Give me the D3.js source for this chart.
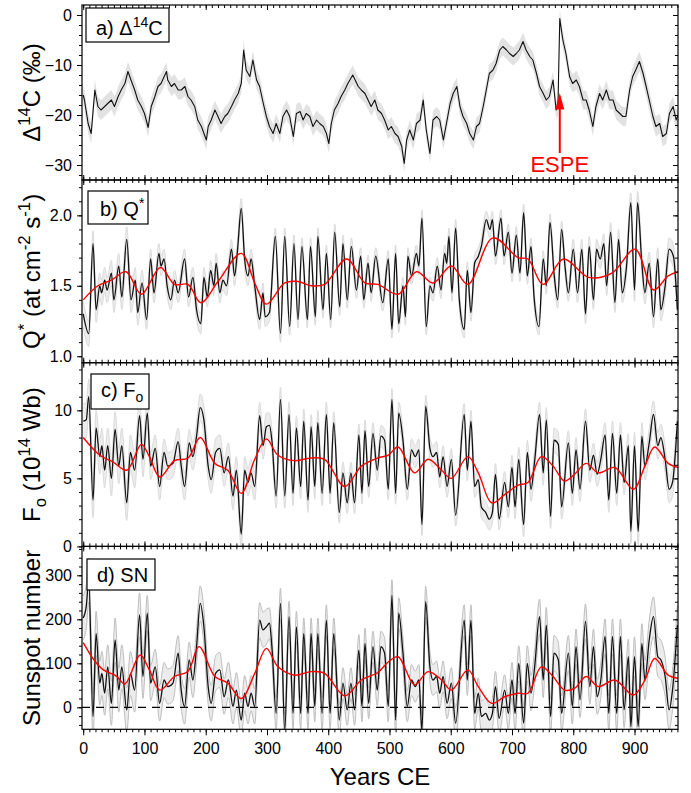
<!DOCTYPE html>
<html>
<head>
<meta charset="utf-8">
<script src="https://cdn.jsdelivr.net/npm/d3@7"></script>
<style>
  body { margin: 0; background: #fff; }
  text { font-family: Arial, "Liberation Sans", sans-serif; }
</style>
</head>
<body>
<div id="chart"></div>
<script>
// ---- data ----
// a) Delta14C (permil)
var c14Years = [0,2,8,13,19,24,29,35,40,46,51,57,62,68,73,78,84,89,95,100,106,111,117,122,127,136,138,144,149,155,160,166,171,176,182,187,193,201,204,209,215,220,225,231,236,242,247,253,258,262,266,272,277,283,288,294,299,304,310,315,321,326,332,337,343,348,354,359,364,370,375,381,386,392,397,401,405,410,416,421,427,432,440,449,454,460,465,470,476,481,487,492,498,503,509,514,520,524,528,533,539,544,550,555,560,566,571,577,582,588,593,599,604,610,615,620,626,631,637,642,647,653,658,663,669,674,680,685,691,696,702,707,712,718,723,729,734,740,745,751,756,761,767,772,775,778,783,788,794,799,805,810,816,821,826,832,837,843,848,854,859,865,870,876,881,886,892,897,902,908,914,919,924,930,935,941,946,952,957,963,968,971];
var c14Values = [-16,-17.0,-21.7,-23.7,-15.0,-18.3,-19.0,-18.3,-17.7,-17.0,-18.3,-16.3,-15.0,-13.7,-11.3,-13.0,-15.0,-17.0,-18.3,-19.7,-22.5,-18.3,-16.3,-14.3,-13.7,-11.3,-13.0,-14.3,-13.7,-15.0,-15.0,-14.3,-16.3,-17.0,-18.3,-21.0,-22.3,-25.0,-22.3,-21.0,-19.0,-20.3,-21.7,-20.3,-19.7,-18.3,-17.0,-15.7,-13.7,-7.0,-11.0,-12.3,-9.0,-13.0,-14.3,-17.7,-20.3,-22.3,-23.7,-21.7,-23.7,-20.3,-19.0,-20.3,-24.3,-19.7,-19.3,-21.0,-19.7,-20.3,-22.3,-21.0,-21.7,-22.3,-23.7,-25.7,-21.7,-19.0,-17.7,-16.3,-15.0,-13.7,-12.0,-14.3,-15.0,-15.7,-17.0,-18.3,-17.0,-19.0,-19.7,-21.0,-23.0,-22.3,-23.7,-24.3,-26.3,-29.7,-25.0,-23.0,-25.0,-21.7,-21.0,-17.0,-23.0,-27.7,-21.0,-20.3,-21.0,-25.0,-21.7,-17.7,-15.7,-14.3,-18.3,-20.3,-21.7,-23.7,-25.0,-22.3,-21.7,-18.3,-15.0,-11.7,-11.0,-9.7,-7.0,-6.3,-7.0,-7.7,-8.3,-7.7,-7.0,-5.3,-7.0,-8.3,-9.0,-11.7,-14.3,-15.7,-17.0,-16.3,-13.0,-19.0,-18.3,-0.7,-5.0,-7.7,-12.3,-13.7,-13.0,-14.3,-17.0,-17.0,-19.0,-22.3,-18.3,-15.7,-17.0,-15.0,-17.0,-17.0,-19.0,-19.7,-20.3,-20.3,-15.0,-12.3,-11.0,-9.3,-11.7,-14.3,-17.0,-20.3,-22.3,-21.7,-24.3,-23.7,-19.7,-18.3,-21.0,-20];
var c14Err = [2.0,1.9,1.9,1.9,1.9,1.9,1.8,1.8,1.9,2.0];   // half width of grey band per century

// b) Q* (at cm-2 s-1)
var qYears = [0,9,16,21,27,30,35,39,46,50,58,63,71,78,85,89,96,103.5,110,115.5,123.6,127,132,137,143,149,155,165.5,172,179,185,192,197,202.5,208,213.4,217,223,228,234,242,247,252,258,263.5,269,274,280,288,293.5,297,304,313.6,322,329,337,344,350.6,357,366,371,379,383,391.5,397,404,410.5,418.7,424,431,437.7,446,453,458,465,470,477.5,489,498,504,510,515,522,526,530,536,544,548,553,560,566,571,578,584,590,593.5,597,602,608,614,622,627,633,639,645,650,658,664,668,673,682,687,694,700,707,713,719,725,731,736,744,751,756,762,769,774.5,781,786.5,792,800,807,814,820,826,833,838,844,850,854.5,861,868,874,880,887,894,900,905,912,917,924,931,938,943,950,956.5,963.5,970];
var qValues = [1.30,1.16,1.80,1.33,1.50,1.45,1.54,1.47,1.59,1.40,1.64,1.42,1.83,1.40,1.54,1.31,1.52,1.26,1.69,1.45,1.73,1.64,1.69,1.50,1.40,1.54,1.45,1.69,1.42,1.56,1.33,1.23,1.56,1.42,1.61,1.50,1.66,1.45,1.54,1.50,1.76,1.57,1.76,2.05,1.69,1.57,1.69,1.50,1.26,1.45,1.28,1.31,1.85,1.16,1.85,1.21,1.80,1.26,1.78,1.26,1.78,1.28,1.85,1.33,1.73,1.26,1.88,1.35,1.80,1.40,1.78,1.47,1.71,1.40,1.66,1.45,1.71,1.38,1.69,1.19,1.73,1.23,1.50,1.28,1.71,1.57,1.73,1.64,1.98,1.21,1.50,1.45,1.64,1.47,1.73,1.66,1.85,1.45,1.91,1.40,1.19,1.61,1.31,1.66,1.71,1.78,1.97,1.90,1.97,1.71,1.98,1.71,1.88,1.59,1.86,1.59,2.02,1.57,1.78,1.42,1.21,1.69,1.50,1.95,1.57,1.40,1.90,1.64,1.45,1.76,1.45,1.76,1.30,1.78,1.40,1.76,1.69,1.80,1.50,1.88,1.38,1.83,1.45,1.64,2.09,1.47,2.09,1.66,1.45,1.66,1.28,1.69,1.33,1.50,1.76,1.71,1.33];
var qSmoothYears = [0,24,46,70,95,126,149,171,192,220,258,280,299,329,351,372,394,430,460,481,514,544,571,601,628,669,710,726,751,784,825,863,901,931,955,971];
var qSmoothValues = [1.40,1.50,1.54,1.60,1.44,1.63,1.51,1.51,1.38,1.53,1.73,1.52,1.37,1.52,1.53,1.50,1.51,1.69,1.52,1.51,1.44,1.60,1.52,1.64,1.51,1.84,1.70,1.69,1.51,1.69,1.56,1.59,1.76,1.47,1.57,1.60];
var qErr = [0.09,0.07,0.07,0.06,0.06,0.06,0.06,0.06,0.07,0.08];

// c) Fo (10^14 Wb)
var foYears = [0,5,9,16,21,27,30.5,35,40,46,52,58,63,71,77,84,92,97.5,104.6,110,117.6,124.7,132,138,146.5,155,160,165.5,173,179,185,191,197,204,209,216,223,230,237,244.5,250,258,263.5,269,274,280,288,293.5,299,304,308,315,322,329,336,342.5,348,355,360,367,372,378,383,390,397,403,409,418,424,431,437,443,450,455,460,466,473,480,486,492,498,504,510,515,522,529,536,542,548,553,559,566,571,577,582,587.5,594,601,608,622,627,633,639,645,650,657,663,668,673,679,688,694,700,705,711,719,725,731,737,745,751,756,763,768.5,775.6,781,792,798.5,804.5,811,820,827,833,839,845,852,858,864,871,877,883,890,894,900,906,912,917,924,931,938,943,950,956.5,962,970];
var foValues = [9.2,9.3,11.0,3.4,8.7,6.6,7.4,5.6,7.4,5.0,8.6,5.9,7.4,3.2,6.9,5.6,9.6,6.4,9.8,5.9,7.2,4.4,6.9,5.9,6.1,7.7,5.9,4.4,7.6,6.6,8.1,10.2,9.3,5.9,4.9,6.9,7.2,5.4,6.6,3.7,5.6,0.9,5.6,4.7,5.4,4.4,9.6,7.4,8.8,8.9,7.8,3.7,10.8,3.7,9.7,3.9,8.7,4.4,9.2,3.4,8.8,4.4,9.1,3.9,9.7,3.9,9.1,2.5,5.4,3.2,5.4,3.2,8.2,3.9,8.5,4.4,8.3,5.6,8.1,7.8,4.2,10.8,3.9,9.8,7.8,4.2,7.1,6.6,7.1,1.6,10.3,7.2,6.6,6.9,5.1,6.6,4.4,6.4,2.3,9.7,5.6,9.2,4.4,4.9,2.9,2.5,2.0,2.5,5.3,2.0,4.7,2.9,5.8,2.9,6.4,1.6,6.9,4.2,6.3,9.7,5.4,9.3,2.2,7.8,7.5,2.9,7.6,3.9,7.1,4.2,9.2,5.6,6.7,5.3,6.4,8.2,3.4,8.3,3.9,8.2,4.7,7.4,1.1,7.4,1.1,8.1,5.9,7.6,9.7,7.4,8.0,6.4,4.2,4.7,9.2];
var foSmoothYears = [0,27,49,71,95,108,125,149,171,191,215,236,258,280,299,318,345,372,394,427,454,481,498,514,541,563,585,601,628,645,667,688,710,726,748,767,786,802,821,841,868,898,917,933,955,971];
var foSmoothValues = [8.0,6.7,6.2,5.6,7.5,6.6,5.1,6.3,6.5,8.0,6.1,5.6,3.9,6.4,7.9,6.7,6.3,6.5,6.4,4.4,5.9,6.5,6.7,7.3,5.4,6.4,5.6,5.0,6.6,5.4,3.2,3.8,4.5,4.7,6.6,5.9,4.8,5.3,6.1,5.4,5.8,4.2,5.9,7.3,6.1,5.8];
var foErr = [1.3,1.0,1.0,0.9,0.8,0.8,0.8,0.9,0.9,1.0];

// d) Sunspot number
var snYears = foYears;
var snValues = [203,230,289,-21,168,55,77,32,92,9,153,39,92,-6,77,39,210,70,214,55,92,9,62,47,55,123,39,2,108,62,138,236,183,47,9,77,85,24,62,2,39,-29,32,2,32,2,198,176,183,191,138,-14,236,-52,206,-14,183,-14,168,-14,168,2,168,-14,198,-14,168,-29,55,-6,55,-6,130,2,145,9,138,39,138,123,2,255,-29,214,123,2,62,47,62,-52,240,92,62,70,32,70,9,55,-36,198,62,198,-14,32,-21,-14,-29,-14,47,-25,39,-14,62,-14,100,-36,100,32,92,206,62,187,-21,123,108,-14,123,2,138,17,195,47,138,24,62,161,-14,161,-14,161,-6,115,-44,115,-44,145,62,153,206,115,108,70,-6,39,187];
var snSmoothYears = [0,18,33,54,68,93,108,125,149,171,189,215,236,258,280,299,318,345,372,394,427,454,481,498,514,541,563,585,601,628,645,667,688,710,726,748,767,786,802,821,841,868,898,917,933,955,971];
var snSmoothValues = [147,107,85,71,53,119,85,39,70,82,138,70,55,20,77,134,92,73,81,77,26,62,79,103,115,51,81,62,39,85,47,9,24,32,32,92,70,39,43,70,47,62,28,62,111,73,66];
var snErr = [50,40,40,35,35,35,35,40,40,45];

var xTickLabels = [0,100,200,300,400,500,600,700,800,900];

// ---- layout ----
const width = 691, height = 793;
const left = 82, right = 678;

const svg = d3.select('#chart')
  .append('svg')
  .attr('width', width)
  .attr('height', height);

const x = d3.scaleLinear().domain([-2, 971]).range([left, right]);

function zip(xs, ys) { return xs.map((d, i) => ({ year: d, v: ys[i] })); }

const panels = [
  { id: 'a', top: 5, bottom: 180, domain: [-33, 2], major: [0, -10, -20, -30], minor: d3.range(-32, 2, 2),
    fmt: d3.format('d'), data: zip(c14Years, c14Values), err: c14Err, curve: d3.curveLinear, lw: 1.1 },
  { id: 'b', top: 180, bottom: 362.7, domain: [0.954, 2.251], major: [1.0, 1.5, 2.0], minor: d3.range(10, 23).map(d => d / 10),
    fmt: d3.format('.1f'), data: zip(qYears, qValues), err: qErr, smooth: zip(qSmoothYears, qSmoothValues), curve: d3.curveMonotoneX, lw: 1.3 },
  { id: 'c', top: 362.7, bottom: 546.4, domain: [0, 13.5], major: [0, 5, 10], minor: d3.range(0, 14, 1),
    fmt: d3.format('d'), data: zip(foYears, foValues), err: foErr, smooth: zip(foSmoothYears, foSmoothValues), curve: d3.curveMonotoneX, lw: 1.3 },
  { id: 'd', top: 546.4, bottom: 729.3, domain: [-50, 365.7], major: [0, 100, 200, 300], minor: d3.range(-40, 366, 20),
    fmt: d3.format('d'), data: zip(snYears, snValues), err: snErr, smooth: zip(snSmoothYears, snSmoothValues), curve: d3.curveMonotoneX, lw: 1.3, edges: true }
];

panels.forEach(function (p, pi) {
  const y = d3.scaleLinear().domain(p.domain).range([p.bottom, p.top]);
  p.y = y;
  const clipId = 'clip-' + p.id;
  svg.append('clipPath').attr('id', clipId)
    .append('rect').attr('x', left).attr('y', p.top).attr('width', right - left).attr('height', p.bottom - p.top);

  const g = svg.append('g').attr('clip-path', `url(#${clipId})`);
  const errOf = d => p.err[Math.min(9, Math.max(0, Math.floor(d.year / 100)))];

  // grey uncertainty band
  const band = d3.area().curve(p.curve)
    .x(d => x(d.year))
    .y0(d => y(d.v - errOf(d)))
    .y1(d => y(d.v + errOf(d)));
  g.append('path').datum(p.data).attr('d', band)
    .attr('fill', p.id === 'a' ? '#e2e2e2' : '#ececec').attr('stroke', 'none');

  if (p.id !== 'a') {
    const hi = d3.line().curve(p.curve).x(d => x(d.year)).y(d => y(d.v + errOf(d)));
    const lo = d3.line().curve(p.curve).x(d => x(d.year)).y(d => y(d.v - errOf(d)));
    [hi, lo].forEach(fn => g.append('path').datum(p.data).attr('d', fn)
      .attr('fill', 'none').attr('stroke', p.edges ? '#bdbdbd' : '#dadada').attr('stroke-width', 1));
  }

  if (p.id === 'd') {
    g.append('line')
      .attr('x1', left).attr('x2', right)
      .attr('y1', y(0)).attr('y2', y(0))
      .attr('stroke', '#000').attr('stroke-width', 1.2).attr('stroke-dasharray', '8,6');
  }

  // main series
  const line = d3.line().curve(p.curve).x(d => x(d.year)).y(d => y(d.v));
  g.append('path').datum(p.data).attr('d', line)
    .attr('fill', 'none').attr('stroke', '#111').attr('stroke-width', p.lw).attr('stroke-linejoin', 'round');

  // smoothed (red)
  if (p.smooth) {
    const sline = d3.line().curve(d3.curveCatmullRom).x(d => x(d.year)).y(d => y(d.v));
    g.append('path').datum(p.smooth).attr('d', sline)
      .attr('fill', 'none').attr('stroke', '#ff0000').attr('stroke-width', 1.4);
  }

  // frame
  svg.append('rect')
    .attr('x', left).attr('y', p.top).attr('width', right - left).attr('height', p.bottom - p.top)
    .attr('fill', 'none').attr('stroke', '#000').attr('stroke-width', 1.2);

  // left axis (ticks out)
  svg.append('g').attr('transform', `translate(${left},0)`)
    .call(d3.axisLeft(y).tickValues(p.minor).tickSize(3).tickFormat(''))
    .call(a => a.select('.domain').remove());
  svg.append('g').attr('transform', `translate(${left},0)`)
    .call(d3.axisLeft(y).tickValues(p.major).tickSize(5).tickPadding(5).tickFormat(p.fmt))
    .call(a => a.select('.domain').remove())
    .attr('font-size', 16).attr('font-family', 'Arial, "Liberation Sans", sans-serif');

  // right axis (ticks in)
  svg.append('g').attr('transform', `translate(${right},0)`)
    .call(d3.axisLeft(y).tickValues(p.minor).tickSize(3).tickFormat(''))
    .call(a => a.select('.domain').remove());
  svg.append('g').attr('transform', `translate(${right},0)`)
    .call(d3.axisLeft(y).tickValues(p.major).tickSize(5).tickFormat(''))
    .call(a => a.select('.domain').remove());

  // x ticks on top and bottom edge
  const minorX = d3.range(0, 971, 10);
  const topAxis = pi === 0 ? d3.axisBottom : d3.axisTop;
  svg.append('g').attr('transform', `translate(0,${p.top})`)
    .call(topAxis(x).tickValues(minorX).tickSize(3).tickFormat(''))
    .call(a => a.select('.domain').remove());
  svg.append('g').attr('transform', `translate(0,${p.top})`)
    .call(topAxis(x).tickValues(xTickLabels).tickSize(5).tickFormat(''))
    .call(a => a.select('.domain').remove());
  svg.append('g').attr('transform', `translate(0,${p.bottom})`)
    .call(d3.axisBottom(x).tickValues(minorX).tickSize(3).tickFormat(''))
    .call(a => a.select('.domain').remove());
  const last = pi === panels.length - 1;
  svg.append('g').attr('transform', `translate(0,${p.bottom})`)
    .call(d3.axisBottom(x).tickValues(xTickLabels).tickSize(last ? 6 : 5).tickPadding(7)
      .tickFormat(last ? d3.format('d') : ''))
    .call(a => a.select('.domain').remove())
    .attr('font-size', 16).attr('font-family', 'Arial, "Liberation Sans", sans-serif');
});

svg.selectAll('.tick line').attr('stroke-width', 1);
svg.selectAll('.tick text').attr('fill', '#000');

// ---- y axis titles ----
function rich(sel, parts) {
  parts.forEach(function (pt) {
    const t = sel.append('tspan').text(pt.t);
    if (pt.s === 'sup') t.attr('font-size', '70%').attr('dy', '-0.6em');
    if (pt.s === 'sub') t.attr('font-size', '70%').attr('dy', '0.35em');
    if (pt.back) t.attr('dy', pt.back);
  });
}

const titles = [
  [{ t: 'Δ' }, { t: '14', s: 'sup' }, { t: 'C (‰)', back: '0.42em' }],
  [{ t: 'Q' }, { t: '*', s: 'sup' }, { t: ' (at cm', back: '0.42em' }, { t: '-2', s: 'sup' }, { t: ' s', back: '0.42em' }, { t: '-1', s: 'sup' }, { t: ')', back: '0.42em' }],
  [{ t: 'F' }, { t: 'o', s: 'sub' }, { t: ' (10', back: '-0.245em' }, { t: '14', s: 'sup' }, { t: ' Wb)', back: '0.42em' }],
  [{ t: 'Sunspot number' }]
];
panels.forEach(function (p, i) {
  const t = svg.append('text')
    .attr('transform', `translate(40,${(p.top + p.bottom) / 2}) rotate(-90)`)
    .attr('text-anchor', 'middle')
    .attr('font-size', 24)
    .attr('fill', '#000');
  rich(t, titles[i]);
});

// ---- panel labels ----
const labelBoxes = [
  { x: 86, y: 8, w: 83, h: 34, tx: 96, ty: 35, parts: [{ t: 'a) Δ' }, { t: '14', s: 'sup' }, { t: 'C', back: '0.42em' }] },
  { x: 88, y: 191, w: 60, h: 33, tx: 100, ty: 216, parts: [{ t: 'b) Q' }, { t: '*', s: 'sup' }] },
  { x: 91, y: 374, w: 58, h: 35, tx: 101, ty: 397, parts: [{ t: 'c) F' }, { t: 'o', s: 'sub' }] },
  { x: 87, y: 559, w: 68, h: 31, tx: 97, ty: 582, parts: [{ t: 'd) SN' }] }
];
labelBoxes.forEach(function (b) {
  svg.append('rect').attr('x', b.x).attr('y', b.y).attr('width', b.w).attr('height', b.h)
    .attr('fill', '#fff').attr('stroke', '#000').attr('stroke-width', 1.2);
  const t = svg.append('text').attr('x', b.tx).attr('y', b.ty).attr('font-size', 20).attr('fill', '#000');
  rich(t, b.parts);
});

// ---- ESPE annotation ----
const ya = panels[0].y;
const espeYear = 778;
svg.append('line')
  .attr('x1', x(espeYear)).attr('x2', x(espeYear))
  .attr('y1', ya(-27.6)).attr('y2', ya(-18.5))
  .attr('stroke', '#ff0000').attr('stroke-width', 2);
svg.append('path')
  .attr('d', d3.line()([[x(espeYear), ya(-15.6)], [x(espeYear) - 4.5, ya(-18.9)], [x(espeYear) + 4.5, ya(-18.9)]]))
  .attr('fill', '#ff0000');
svg.append('text')
  .attr('x', x(espeYear)).attr('y', ya(-31.4))
  .attr('text-anchor', 'middle').attr('font-size', 22).attr('fill', '#ff0000')
  .text('ESPE');

// ---- x axis title ----
svg.append('text')
  .attr('x', (left + right) / 2).attr('y', 785)
  .attr('text-anchor', 'middle').attr('font-size', 24).attr('fill', '#000')
  .text('Years CE');
</script>
</body>
</html>
